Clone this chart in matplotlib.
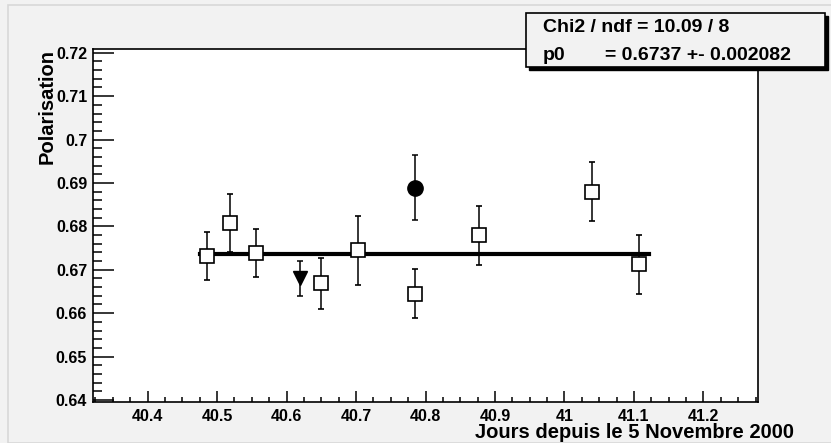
import matplotlib.pyplot as plt
from matplotlib.patches import Rectangle
from matplotlib.ticker import MultipleLocator

# fitted points (open squares)
x_sq = [40.486, 40.519, 40.556, 40.649, 40.703, 40.785, 40.877, 41.040, 41.108]
y_sq = [0.6732, 0.6807, 0.6738, 0.6669, 0.6745, 0.6645, 0.6779, 0.6880, 0.6713]
e_sq = [0.0055, 0.0067, 0.0055, 0.0059, 0.0079, 0.0057, 0.0069, 0.0068, 0.0068]

# extra points
x_tri = [40.619]
y_tri = [0.6680]
e_tri = [0.0040]
x_circ = [40.785]
y_circ = [0.6889]
e_circ = [0.0075]

# fit p0
fit_x = [40.475, 41.122]
p0 = 0.6737

stat_line1 = "Chi2 / ndf = 10.09 / 8"
stat_name2 = "p0"
stat_val2 = "= 0.6737 +- 0.002082"

bg = "#f2f2f2"
plt.rcParams['font.family'] = ['Liberation Sans', 'DejaVu Sans']
plt.rcParams['font.weight'] = 'bold'

fig = plt.figure(figsize=(8.31, 4.43), dpi=100, facecolor=bg)
W, H = 831.0, 443.0

# canvas border
fig.patches.append(Rectangle((8 / W, 0), 1, 1 - 5 / H, transform=fig.transFigure,
                             fill=False, edgecolor="#d8d8d8", lw=1.2))

ax = fig.add_axes([92.7 / W, 41.3 / H, 665.6 / W, 352.4 / H])
ax.set_facecolor("white")
ax.set_xlim(40.321, 41.279)
ax.set_ylim(0.6396, 0.7208)

ax.plot(fit_x, [p0, p0], color="black", lw=3, zorder=2)

ax.errorbar(x_sq, y_sq, yerr=e_sq, fmt="s", ms=10, mfc="white", mec="black", mew=1.2,
            ecolor="black", elinewidth=1.1, capsize=2.2, capthick=1.1, zorder=3)
ax.errorbar(x_tri, y_tri, yerr=e_tri, fmt="v", ms=9.5, mfc="black", mec="black",
            ecolor="black", elinewidth=1.1, capsize=2.2, capthick=1.1, zorder=3)
ax.errorbar(x_circ, y_circ, yerr=e_circ, fmt="o", ms=11, mfc="black", mec="black",
            ecolor="black", elinewidth=1.1, capsize=2.2, capthick=1.1, zorder=3)

for s in ax.spines.values():
    s.set_linewidth(1.2)

ax.xaxis.set_major_locator(MultipleLocator(0.1))
ax.xaxis.set_minor_locator(MultipleLocator(0.025))
ax.yaxis.set_major_locator(MultipleLocator(0.01))
ax.yaxis.set_minor_locator(MultipleLocator(0.002))
ax.tick_params(axis="x", which="major", direction="in", length=8, width=1.1, pad=5, labelsize=11.5)
ax.tick_params(axis="x", which="minor", direction="in", length=3.6, width=1.1)
ax.tick_params(axis="y", which="major", direction="in", length=15, width=1.1, pad=4, labelsize=11.5)
ax.tick_params(axis="y", which="minor", direction="in", length=6.5, width=1.1)
ax.xaxis.set_major_formatter(plt.FuncFormatter(lambda v, p: f"{v:g}"))
ax.yaxis.set_major_formatter(plt.FuncFormatter(lambda v, p: f"{round(v, 2):g}"))

fig.text(47 / W, 1 - 106 / H, "Polarisation", rotation=90, ha="center", va="center",
         fontsize=14.5)
fig.text(794 / W, 1 - 432 / H, "Jours depuis le 5 Novembre 2000", ha="right", va="center",
         fontsize=14.5)

# stats box with shadow
bx0, by0, bx1, by1 = 526, 13.3, 825, 66.5
fig.patches.append(Rectangle(((bx0 + 3) / W, 1 - (by1 + 3) / H), (bx1 - bx0) / W, (by1 - by0) / H,
                             transform=fig.transFigure, facecolor="black", edgecolor="black", zorder=10))
fig.patches.append(Rectangle((bx0 / W, 1 - by1 / H), (bx1 - bx0) / W, (by1 - by0) / H,
                             transform=fig.transFigure, facecolor=bg, edgecolor="black", lw=1.2, zorder=11))
fig.text(543 / W, 1 - 28 / H, stat_line1, ha="left", va="center", fontsize=14, zorder=12)
fig.text(543 / W, 1 - 55 / H, stat_name2, ha="left", va="center", fontsize=14, zorder=12)
fig.text(605 / W, 1 - 55 / H, stat_val2, ha="left", va="center", fontsize=14, zorder=12)

fig.savefig("out.png", dpi=100, facecolor=bg)
